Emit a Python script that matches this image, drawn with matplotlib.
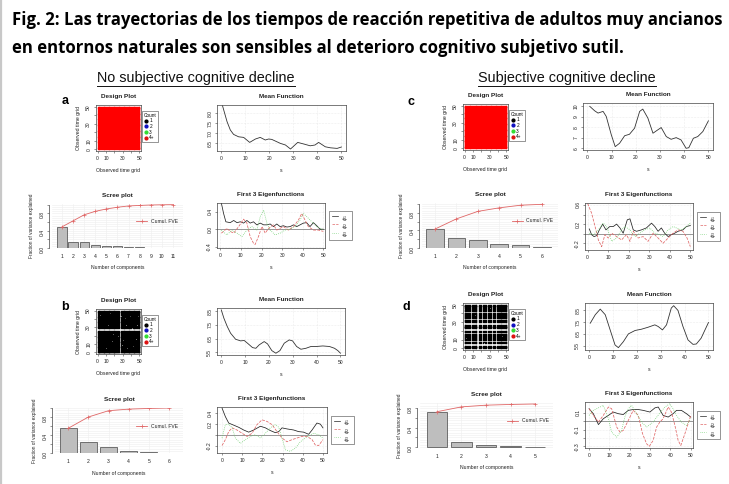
import numpy as np
import matplotlib
matplotlib.use("Agg")
import matplotlib.pyplot as plt
from matplotlib.lines import Line2D

# ---------------- data ----------------
title_lines = ["Fig. 2: Las trayectorias de los tiempos de reacción repetitiva de adultos muy ancianos",
               "en entornos naturales son sensibles al deterioro cognitivo subjetivo sutil."]
group_titles = ["No subjective cognitive decline", "Subjective cognitive decline"]
panel_letters = ["a", "b", "c", "d"]
count_labels = ["1", "2", "3", "4+"]
eig_labels = [r"$\phi_1$", r"$\phi_2$", r"$\phi_3$"]

time_grid = np.arange(0, 51)
# observed-time rows/cols with no observations (sparse designs)
design_b_gap_s = [26, 27]
design_b_gap_t = [27, 28]
design_b_missing = [(3, 45), (8, 40), (12, 33), (15, 47), (18, 22), (22, 12), (5, 18), (33, 41),
                    (38, 36), (42, 8), (45, 25), (48, 44), (30, 15), (35, 5), (10, 5), (20, 38),
                    (25, 30), (40, 18), (44, 47), (14, 27), (7, 30), (28, 44), (36, 12), (47, 33),
                    (2, 8), (17, 14), (31, 24), (39, 44), (24, 20), (11, 12), (13, 36), (34, 33),
                    (43, 38), (19, 3), (6, 24), (29, 9), (41, 29), (9, 48), (23, 43), (46, 16)]
design_d_gap_s = [7, 8, 15, 16, 20, 21, 26, 27, 32, 33, 37, 38]
design_d_gap_t = [4, 5, 8, 9, 17, 18, 21, 22, 28, 29, 33, 34, 41, 42]
design_d_missing = [(1, 30), (2, 12), (1, 45), (3, 25), (44, 13), (45, 14), (30, 46), (12, 38), (23, 6), (40, 25)]

# mean functions
mean_a_s = [0.5, 2.4, 3.75, 5.1, 7.2, 9.3, 11.8, 14.2, 16.2, 18.3, 19.7, 21, 24.6, 26.7, 28.8, 30, 31.8, 34.3, 37, 39, 40.5, 43.3, 45.4, 48.2, 50]
mean_a_y = [8.38, 7.58, 7.17, 6.95, 6.83, 6.8, 6.55, 6.72, 6.8, 6.67, 6.72, 6.7, 6.5, 6.42, 6.22, 6.35, 6.55, 6.47, 6.38, 6.42, 6.55, 6.33, 6.28, 6.25, 6.32]
mean_b_s = [0, 1.1, 2.5, 3.9, 6.0, 8.1, 9.6, 11.0, 13.1, 14.5, 15.9, 18.0, 19.4, 21.2, 22.9, 24.6, 26.4, 28.5, 29.9, 31.6, 33.4, 35.5, 37.6, 39.7, 42.6, 45.4, 47.5, 48.9, 50]
mean_b_y = [8.6, 7.99, 7.39, 6.9, 6.46, 6.34, 6.37, 6.17, 5.85, 5.8, 6.05, 6.29, 6.12, 5.63, 5.44, 5.63, 6.17, 6.41, 6.34, 5.93, 5.73, 5.8, 5.93, 5.93, 5.97, 5.93, 5.8, 5.63, 5.44]
mean_c_s = [1, 3, 4.4, 6.5, 7.8, 9.9, 11.5, 13.3, 15.4, 17.4, 19.5, 21.6, 22.9, 25, 27.1, 29.1, 30.5, 32.6, 34.6, 36.7, 38.7, 40.8, 41.9, 43.8, 45.6, 47.7, 50]
mean_c_y = [10, 9.58, 9.36, 9.52, 9.04, 7.28, 6.16, 6.48, 7.2, 7.34, 7.92, 9.52, 9.74, 8.88, 7.44, 7.76, 7.98, 7.12, 6.86, 7.02, 6.8, 6.0, 6.06, 6.96, 7.12, 7.6, 8.62]
mean_d_s = [0.4, 2.5, 4.6, 6.7, 8.75, 10.8, 12.2, 14.3, 16.4, 19.2, 21.9, 24.7, 27.5, 28.9, 30.7, 32.4, 34.4, 35.4, 37.2, 39.3, 41.4, 43.5, 44.9, 46.9, 50]
mean_d_y = [7.41, 8.13, 8.61, 8.13, 6.84, 5.56, 5.33, 5.84, 6.5, 6.79, 6.9, 7.07, 7.27, 7.13, 6.84, 7.27, 8.7, 8.9, 8.5, 7.13, 5.99, 5.61, 5.64, 6.13, 7.47]

# fraction of variance explained per component
fve_a = [0.49, 0.14, 0.14, 0.08, 0.055, 0.04, 0.03, 0.012, 0.01, 0.005, 0.003]
fve_b = [0.55, 0.25, 0.14, 0.035, 0.015, 0.01]
fve_c = [0.43, 0.23, 0.17, 0.08, 0.06, 0.02]
fve_d = [0.73, 0.10, 0.035, 0.015, 0.01]

# eigenfunctions
phi1_a_s = [0.5, 1.6, 2.7, 4.8, 6.5, 8.1, 9.7, 11.3, 12.9, 14.5, 16.1, 17.7, 19.4, 21.0, 22.6, 24.2, 25.8, 27.4, 29.0, 30.6, 32.3, 33.9, 35.5, 37.1, 38.7, 40.3, 41.9, 43.5, 45.2, 46.8, 48.4, 50]
phi1_a_y = [0.60, 0.36, 0.17, 0.15, 0.20, 0.15, 0.17, 0.14, 0.20, 0.14, 0.17, 0.10, 0.14, 0.10, 0.10, 0.12, 0.06, 0.12, 0.06, 0.08, 0.05, 0.06, 0.10, 0.06, 0.10, 0.14, 0.15, 0.06, 0.15, 0.08, 0.0, 0.0]
phi2_a_s = [0.5, 1.6, 3.2, 4.8, 6.5, 8.9, 11.3, 12.9, 14.5, 16.1, 16.9, 18.5, 20.2, 21.8, 23.4, 25.8, 27.4, 30.6, 33.1, 35.5, 37.9, 39.5, 41.1, 42.7, 45.2, 47.6, 50]
phi2_a_y = [-0.09, -0.05, 0.02, -0.05, -0.09, 0.06, 0.23, 0.14, -0.17, -0.32, -0.35, -0.17, 0.06, -0.09, 0.02, 0.10, -0.02, 0.06, -0.02, 0.06, 0.21, 0.36, 0.21, 0.06, -0.02, -0.02, -0.05]
phi3_a_s = [0.5, 3.2, 5.6, 8.1, 10.5, 12.9, 15.3, 17.7, 19.4, 21.0, 22.6, 24.2, 26.6, 29.0, 31.5, 33.9, 36.3, 38.7, 40.3, 41.9, 44.4, 46.8, 50]
phi3_a_y = [-0.02, -0.13, -0.02, -0.09, -0.17, -0.02, 0.06, -0.02, 0.29, 0.44, 0.14, -0.02, -0.13, -0.09, -0.02, 0.0, 0.06, 0.21, 0.36, 0.29, 0.17, 0.06, -0.02]

phi1_b_s = [0, 1.65, 3.3, 5.8, 8.3, 10.7, 13.2, 15.7, 19.0, 21.5, 23.9, 26.4, 28.1, 29.7, 32.2, 35.5, 37.9, 40.4, 42.9, 44.6, 47.0, 48.7, 50]
phi1_b_y = [0.50, 0.34, 0.22, 0.18, 0.14, 0.09, 0.05, 0.09, 0.16, 0.13, 0.08, 0.04, 0.06, 0.13, 0.11, 0.09, 0.06, 0.05, 0.01, 0.09, 0.22, 0.20, 0.13]
phi2_b_s = [0, 1.65, 3.3, 5.0, 7.4, 9.9, 12.4, 14.9, 17.3, 19.8, 22.3, 24.8, 27.2, 29.7, 32.2, 34.7, 37.1, 39.6, 42.1, 44.6, 46.2, 47.9, 50]
phi2_b_y = [-0.20, -0.09, 0.06, 0.13, 0.09, 0.03, -0.03, 0.03, 0.19, 0.28, 0.25, 0.19, 0.06, -0.06, -0.13, -0.09, -0.06, -0.03, -0.03, -0.09, -0.19, -0.20, -0.09]
phi3_b_s = [0, 1.65, 3.3, 5.0, 6.6, 9.1, 11.6, 14.0, 16.5, 19.0, 21.5, 23.9, 26.4, 28.1, 29.7, 31.4, 33.8, 36.3, 38.8, 41.3, 43.7, 45.4, 47.9, 50]
phi3_b_y = [-0.06, 0.19, 0.20, 0.13, -0.06, -0.16, -0.09, -0.03, 0.0, -0.06, 0.03, 0.13, 0.19, 0.14, -0.06, -0.28, -0.31, -0.25, -0.13, -0.06, 0.0, 0.03, 0.0, -0.06]

phi1_c_s = [0.8, 1.9, 3.1, 4.4, 5.7, 7.3, 8.9, 10.8, 12.5, 14.1, 15.7, 17.3, 19.3, 20.6, 22.2, 23.8, 26.2, 28.6, 31.1, 32.7, 34.3, 35.9, 37.5, 39.2, 40.8, 42.4, 44.0, 46.4, 48.1, 50]
phi1_c_y = [0.10, -0.02, -0.06, -0.04, 0.08, 0.20, 0.08, 0.15, 0.15, 0.20, 0.12, 0.01, 0.29, 0.31, 0.08, 0.05, 0.08, 0.12, 0.22, 0.15, 0.05, 0.12, 0.01, -0.06, -0.02, 0.01, 0.05, 0.08, 0.15, 0.17]
phi2_c_s = [0, 1.9, 3.6, 5.2, 6.8, 8.4, 10.0, 11.7, 14.1, 16.5, 18.9, 20.6, 22.2, 24.6, 27.0, 29.4, 31.9, 34.3, 36.7, 39.2, 41.6, 44.0, 46.4, 48.4, 50]
phi2_c_y = [0.63, 0.43, 0.15, -0.13, -0.27, -0.02, -0.09, 0.01, -0.06, -0.13, -0.02, -0.16, 0.05, -0.09, -0.06, -0.16, 0.01, -0.09, -0.20, -0.09, 0.01, 0.08, 0.05, -0.09, -0.27]
phi3_c_s = [0.8, 2.8, 5.2, 7.6, 9.2, 11.7, 14.1, 16.5, 18.1, 20.6, 23.0, 25.4, 27.8, 30.3, 32.7, 35.1, 36.7, 39.2, 41.6, 43.2, 45.6, 48.1, 50]
phi3_c_y = [0.01, -0.02, 0.08, 0.22, 0.15, -0.16, -0.09, 0.08, 0.15, 0.08, -0.06, 0.01, 0.08, 0.12, 0.01, -0.02, -0.06, 0.08, 0.15, 0.12, 0.08, 0.15, 0.22]

phi1_d_s = [0, 2.1, 4.6, 7.0, 9.5, 11.9, 14.4, 16.8, 19.3, 21.7, 24.2, 26.6, 29.9, 32.4, 34.0, 36.4, 38.9, 41.3, 43.0, 45.4, 47.9, 50]
phi1_d_y = [0.15, 0.09, -0.04, 0.03, 0.07, 0.11, 0.09, 0.08, 0.13, 0.14, 0.14, 0.13, 0.11, 0.16, 0.17, 0.07, 0.05, 0.09, 0.13, 0.13, 0.09, 0.05]
phi2_d_s = [0, 2.1, 4.6, 7.0, 9.5, 11.1, 13.6, 15.2, 16.8, 19.3, 21.7, 24.2, 26.3, 28.3, 29.6, 31.5, 33.2, 34.8, 36.4, 38.9, 40.5, 42.2, 43.8, 45.1, 47.1, 50]
phi2_d_y = [0.15, 0.07, -0.01, 0.07, 0.17, 0.15, -0.07, -0.13, -0.11, 0.01, 0.13, 0.07, -0.15, -0.27, -0.30, -0.23, -0.07, -0.01, 0.03, 0.17, 0.11, -0.05, -0.23, -0.29, -0.15, 0.07]
phi3_d_s = [0, 2.1, 4.6, 7.0, 9.5, 11.1, 13.6, 16.0, 17.6, 19.3, 20.9, 23.4, 25.8, 28.3, 31.5, 34.8, 37.3, 39.7, 41.3, 43.0, 45.4, 47.9, 50]
phi3_d_y = [0.07, 0.13, 0.16, 0.19, 0.03, -0.13, -0.19, -0.11, 0.05, 0.15, 0.19, 0.09, -0.01, -0.07, -0.01, 0.10, 0.17, 0.21, 0.15, 0.07, -0.01, -0.05, 0.03]

# ---------------- layout / style ----------------
W, H = 729, 484
plt.rcParams['font.family'] = ['Liberation Sans', 'DejaVu Sans']
fig = plt.figure(figsize=(W / 100, H / 100), dpi=100)

TXT = '#222222'
RED = '#E06666'
GREEN = '#66CC66'
TS = 3.6   # tick label size
LS = 3.7   # axis label size
TTS = 4.6  # panel title size


def ax_px(l, t, r, b):
    return fig.add_axes([l / W, 1 - b / H, (r - l) / W, (b - t) / H])


def base_style(ax):
    for sp in ax.spines.values():
        sp.set_linewidth(0.5)
        sp.set_color('#444444')
    ax.tick_params(axis='both', length=1.6, width=0.4, labelsize=TS, pad=1.8,
                   colors='#444444', labelcolor=TXT)
    ax.tick_params(axis='y', labelrotation=90)
    for lab in ax.get_yticklabels():
        lab.set_va('center')


def set_title(ax, text, pad=5):
    ax.set_title(text, fontsize=TTS, fontweight='bold', color=TXT, pad=pad)


def design(ax, gaps_s, gaps_t, missing, color, msize):
    S, T = np.meshgrid(time_grid, time_grid)
    keep = ~(np.isin(S, gaps_s) | np.isin(T, gaps_t))
    for (ms_, mt_) in missing:
        keep &= ~((S == ms_) & (T == mt_))
    sc = ax.scatter(S[keep], T[keep], s=msize, c=color, marker='s', linewidths=0)
    sc.set_snap(False)
    ax.set_xlim(-2, 52)
    ax.set_ylim(-2, 52)
    ax.set_xticks([0, 10, 20, 30, 40, 50])
    ax.set_xticklabels(['0', '10', '', '30', '', '50'])
    ax.set_yticks([0, 10, 20, 30, 40, 50])
    ax.set_yticklabels(['0', '10', '', '30', '', '50'])
    base_style(ax)
    ax.set_xlabel('Observed time grid', fontsize=LS, color=TXT, labelpad=5)
    ax.set_ylabel('Observed time grid', fontsize=LS, color=TXT, labelpad=4)
    set_title(ax, 'Design Plot')
    cols = ['black', '#1010C0', '#33DD33', '#DD1111']
    hs = [Line2D([], [], marker='o', ls='none', color=c, ms=2.0) for c in cols]
    leg = ax.legend(hs, count_labels, title='Count', loc='upper left', bbox_to_anchor=(1.02, 0.87),
                    fontsize=3.4, title_fontsize=3.4, frameon=True, fancybox=False,
                    edgecolor='#444444', framealpha=1, handlelength=0.6, handletextpad=0.3,
                    borderpad=0.35, labelspacing=0.15, borderaxespad=0)
    leg.get_frame().set_linewidth(0.4)


def mean_plot(ax, s, y, ylim, yticks):
    ax.plot(s, y, color='#333333', lw=0.6)
    ax.set_xlim(-1.8, 51.9)
    ax.set_ylim(*ylim)
    ax.set_xticks([0, 10, 20, 30, 40, 50])
    ax.set_yticks(yticks)
    ax.grid(color='#DDDDDD', ls=':', lw=0.4)
    ax.set_axisbelow(True)
    base_style(ax)
    ax.set_xlabel('s', fontsize=LS, color=TXT, labelpad=5)
    set_title(ax, 'Mean Function')


def scree(ax, fve, xlim, ylim, ylabels_top):
    n = len(fve)
    comps = np.arange(1, n + 1)
    ax.set_yticks(np.arange(0, 1.01, 0.05), minor=True)
    ax.grid(which='both', axis='y', color='#EEEEEE', lw=0.4)
    ax.grid(which='major', axis='x', color='#EEEEEE', lw=0.4)
    ax.set_axisbelow(True)
    ax.bar(comps, fve, width=0.83, color='#BEBEBE', edgecolor='#444444', lw=0.5)
    ax.plot(comps, np.cumsum(fve), color=RED, lw=0.6, marker='+', ms=2.2, mew=0.5,
            label='Cumul. FVE')
    ax.set_xlim(*xlim)
    ax.set_ylim(*ylim)
    ax.set_xticks(comps)
    ax.set_xticklabels([str(c) for c in comps])
    yt = np.round(np.arange(0, ylabels_top + 0.001, 0.2), 2)
    ax.set_yticks(yt)
    ax.set_yticklabels([('%.1f' % v) if (round(v / 0.4, 6) % 1 == 0) else '' for v in yt])
    base_style(ax)
    ax.tick_params(axis='y', which='minor', length=0)
    ax.tick_params(axis='x', length=0, pad=4)
    for k in ['top', 'right', 'bottom']:
        ax.spines[k].set_visible(False)
    ax.spines['left'].set_bounds(0, yt[-1])
    ax.spines['left'].set_position(('outward', 2))
    ax.set_xlabel('Number of components', fontsize=LS, color=TXT, labelpad=5)
    ax.set_ylabel('Fraction of variance explained', fontsize=3.4, color=TXT, labelpad=4)
    leg = ax.legend(loc='center right', fontsize=3.6, frameon=False, handlelength=2.2,
                    bbox_to_anchor=(1.0, 0.6))
    for t in leg.get_texts():
        t.set_color(TXT)
    set_title(ax, 'Scree plot')


def eigen(ax, curves, xlim, ylim, yticks, ylabels):
    ax.grid(color='#DDDDDD', ls=':', lw=0.4)
    ax.set_axisbelow(True)
    ax.axhline(0, color='#888888', lw=0.6)
    styles = [('#222222', '-'), (RED, '--'), (GREEN, ':')]
    for (s, y), (c, ls) in zip(curves, styles):
        ax.plot(s, y, color=c, ls=ls, lw=0.55)
    ax.set_xlim(*xlim)
    ax.set_ylim(*ylim)
    ax.set_xticks([0, 10, 20, 30, 40, 50])
    ax.set_yticks(yticks)
    ax.set_yticklabels(ylabels)
    base_style(ax)
    ax.set_xlabel('s', fontsize=LS, color=TXT, labelpad=5)
    set_title(ax, 'First 3 Eigenfunctions')
    hs = [Line2D([], [], color=c, ls=ls, lw=0.5) for c, ls in styles]
    leg = ax.legend(hs, eig_labels, loc='center left', bbox_to_anchor=(1.04, 0.5),
                    fontsize=3.4, frameon=True, fancybox=False, edgecolor='#444444',
                    framealpha=1, handlelength=1.4, handletextpad=0.5, borderpad=0.5,
                    labelspacing=0.25, borderaxespad=0)
    leg.get_frame().set_linewidth(0.4)
    for t in leg.get_texts():
        t.set_rotation(90)
        t.set_color(TXT)


# ---------- panels ----------
# a
design(ax_px(96, 105, 141, 151), [], [], [], '#FF0000', 0.9)
mean_plot(ax_px(217, 105, 346, 151), mean_a_s, mean_a_y, (6.12, 8.42), [6.5, 7, 7.5, 8])
scree(ax_px(52, 204, 183, 248), fve_a, (0.1, 11.9), (0, 1.02), 1.0)
eigen(ax_px(217, 203, 325, 248), [(phi1_a_s, phi1_a_y), (phi2_a_s, phi2_a_y), (phi3_a_s, phi3_a_y)],
      (-1.6, 50.8), (-0.43, 0.6), [-0.4, 0.0, 0.4], ['-0.4', '0.0', '0.4'])
# b
design(ax_px(96, 309, 141, 354), design_b_gap_s, design_b_gap_t, design_b_missing, 'black', 0.9)
mean_plot(ax_px(217, 308, 345, 355), mean_b_s, mean_b_y, (5.31, 8.74), [5.5, 6.5, 7.5, 8.5])
scree(ax_px(55, 408, 183, 453), fve_b, (0.34, 6.7), (0, 1.0), 1.0)
eigen(ax_px(217, 407, 327, 453), [(phi1_b_s, phi1_b_y), (phi2_b_s, phi2_b_y), (phi3_b_s, phi3_b_y)],
      (-2.5, 52), (-0.34, 0.52), [-0.2, 0.0, 0.2, 0.4], ['-0.2', '', '0.2', '0.4'])
# c
design(ax_px(463, 104, 508, 150), [], [], [], '#FF0000', 0.9)
mean_plot(ax_px(583, 103, 713, 150), mean_c_s, mean_c_y, (5.84, 10.32), [6, 7, 8, 9, 10])
scree(ax_px(422, 203, 558, 248), fve_c, (0.39, 6.75), (0, 1.02), 1.0)
eigen(ax_px(585, 203, 693, 250), [(phi1_c_s, phi1_c_y), (phi2_c_s, phi2_c_y), (phi3_c_s, phi3_c_y)],
      (-1.3, 51.3), (-0.34, 0.64), [-0.2, 0.0, 0.2, 0.4, 0.6], ['-0.2', '', '0.2', '', '0.6'])
# d
design(ax_px(463, 303, 508, 350), design_d_gap_s, design_d_gap_t, design_d_missing, 'black', 0.9)
mean_plot(ax_px(585, 303, 713, 350), mean_d_s, mean_d_y, (5.13, 9.13), [5.5, 6.5, 7.5, 8.5])
scree(ax_px(420, 403, 553, 448), fve_d, (0.31, 5.73), (-0.02, 0.91), 0.8)
eigen(ax_px(585, 402, 693, 448), [(phi1_d_s, phi1_d_y), (phi2_d_s, phi2_d_y), (phi3_d_s, phi3_d_y)],
      (-2, 51.1), (-0.32, 0.23), [-0.3, -0.2, -0.1, 0.0, 0.1], ['-0.3', '', '-0.1', '', '0.1'])

# ---------- text ----------
letter_pos = [(65, 101), (65, 307), (411, 102), (406, 307)]
for lt, (x, y) in zip(panel_letters, letter_pos):
    fig.text(x / W, 1 - y / H, lt, fontsize=9, fontweight='bold', ha='center', va='center', color='black')

fig.canvas.draw()
rend = fig.canvas.get_renderer()

t1 = fig.text(12 / W, 1 - 20 / H, title_lines[0], fontsize=12, fontweight='bold',
              family=['Open Sans', 'DejaVu Sans'], ha='left', va='center', color='black')
bw = t1.get_window_extent(rend).width
fs = 12 * 710 / bw
t1.set_fontsize(fs)
t2 = fig.text(12 / W, 1 - 48 / H, title_lines[1], fontsize=fs, fontweight='bold',
              family=['Open Sans', 'DejaVu Sans'], ha='left', va='center', color='black')

sub_x = [196, 567]
sub = []
for txt, x in zip(group_titles, sub_x):
    sub.append(fig.text(x / W, 1 - 78 / H, txt, fontsize=9,
                        family=['Liberation Sans Narrow', 'Liberation Sans'],
                        ha='center', va='center', color='#111111'))
bw = sub[0].get_window_extent(rend).width
sfs = 9 * 198 / bw
for t in sub:
    t.set_fontsize(sfs)
fig.canvas.draw()
for t in sub:
    bb = t.get_window_extent(rend)
    yy = (bb.y0 - 0.5) / H
    fig.add_artist(Line2D([bb.x0 / W, bb.x1 / W], [yy, yy], transform=fig.transFigure,
                          color='#111111', lw=0.7))

fig.add_artist(Line2D([1.2 / W, 1.2 / W], [0, 1], transform=fig.transFigure, color='#C8C8C8', lw=1.6))

fig.savefig('out.png', dpi=100, facecolor='white')
